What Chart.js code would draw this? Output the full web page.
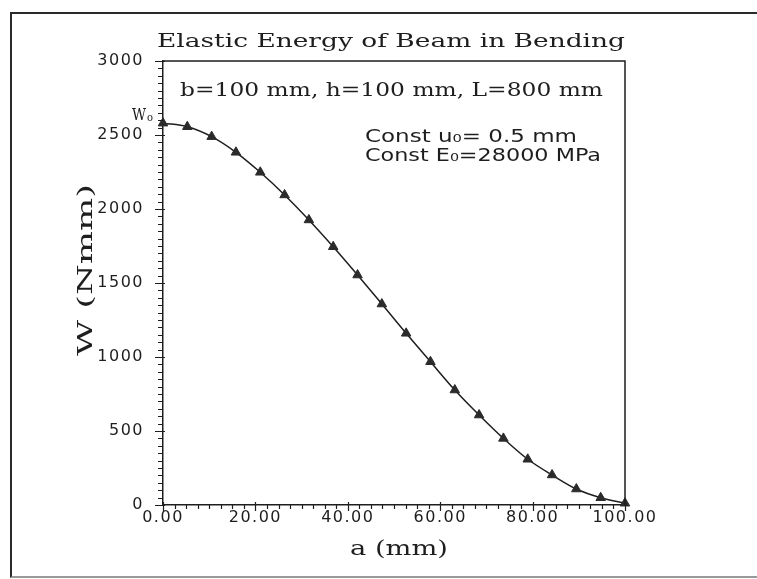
<!DOCTYPE html>
<html><head><meta charset="utf-8">
<script src="https://cdn.jsdelivr.net/npm/chart.js@4.4.1/dist/chart.umd.min.js"></script>
<style>
html,body{margin:0;padding:0;background:#fff;}
#wrap{position:relative;width:757px;height:579px;overflow:hidden;background:#fff;}
#frame{position:absolute;left:10px;top:12px;width:800px;height:566px;border:2px solid #2a2a2a;border-bottom-color:#9a9a9a;box-sizing:border-box;}
canvas{position:absolute;left:0;top:0;}
</style></head>
<body><div id="wrap"><div id="frame"></div><canvas id="c" width="757" height="579"></canvas></div>
<script>
// ---- data ----
const xValues = [0, 5.26, 10.53, 15.79, 21.05, 26.32, 31.58, 36.84, 42.11, 47.37,
                 52.63, 57.89, 63.16, 68.42, 73.68, 78.95, 84.21, 89.47, 94.74, 100];
const wValues = [2580, 2556, 2489, 2383, 2248, 2095, 1926, 1745, 1554, 1358,
                 1160, 968, 777, 608, 450, 309, 203, 108, 49, 12];
const xTickValues = [0, 20, 40, 60, 80, 100];
const yTickValues = [0, 500, 1000, 1500, 2000, 2500, 3000];
const xMinorStep = 2.5;
const yMinorStep = 50;
const titleText = 'Elastic Energy of Beam in Bending';
const xTitleText = 'a (mm)';
const yTitleText = 'W (Nmm)';
const dimText = 'b=100 mm, h=100 mm, L=800 mm';
const constLines = ['Const u\u2080= 0.5 mm', 'Const E\u2080=28000 MPa'];
const w0Label = 'W';

const INK = '#1e1e1e';
const SERIF = "'DejaVu Serif', 'Liberation Serif', serif";
const SANS = "'DejaVu Sans', 'Liberation Sans', sans-serif";

// draw text stretched horizontally so that it spans targetWidth
function drawFit(ctx, s, x, y, font, targetWidth, align) {
  ctx.save();
  ctx.font = font;
  ctx.letterSpacing = '0px';
  ctx.textBaseline = 'alphabetic';
  ctx.fillStyle = INK;
  const w = ctx.measureText(s).width;
  const sx = targetWidth / w;
  let x0 = x;
  if (align === 'center') x0 = x - targetWidth / 2;
  else if (align === 'right') x0 = x - targetWidth;
  ctx.translate(x0, y);
  ctx.scale(sx, 1);
  ctx.textAlign = 'left';
  ctx.fillText(s, 0, 0);
  ctx.restore();
}

const decor = {
  id: 'decor',
  beforeDraw(chart) {
    chart.ctx.letterSpacing = '1.5px';
  },
  afterDraw(chart) {
    const ctx = chart.ctx;
    const {left, right, top, bottom} = chart.chartArea;
    const xs = chart.scales.x, ys = chart.scales.y;
    ctx.save();
    ctx.strokeStyle = INK;
    ctx.lineWidth = 1.5;
    // plot box top and right
    ctx.beginPath();
    ctx.moveTo(left, top); ctx.lineTo(right, top); ctx.lineTo(right, bottom);
    ctx.stroke();
    // tick marks
    ctx.lineWidth = 1.2;
    ctx.beginPath();
    for (let v = 0; v <= 3000 + 1e-6; v += yMinorStep) {
      const py = Math.round(ys.getPixelForValue(v)) + 0.5;
      const major = yTickValues.includes(v);
      ctx.moveTo(left - (major ? 8 : 5), py);
      ctx.lineTo(left + (major ? 2 : 0), py);
    }
    for (let v = 0; v <= 100 + 1e-6; v += xMinorStep) {
      const px = Math.round(xs.getPixelForValue(v)) + 0.5;
      const major = xTickValues.includes(v);
      ctx.moveTo(px, bottom + (major ? 6 : 4));
      ctx.lineTo(px, bottom - (major ? 3 : 0));
    }
    ctx.stroke();

    // title
    drawFit(ctx, titleText, 157, 47, '18px ' + SERIF, 468, 'left');
    // dimensions line
    drawFit(ctx, dimText, 180, 96, '18px ' + SERIF, 423, 'left');
    // constants
    drawFit(ctx, constLines[0], 365, 142, '18px ' + SANS, 212, 'left');
    drawFit(ctx, constLines[1], 365, 161, '18px ' + SANS, 236, 'left');
    // W0 marker label
    drawFit(ctx, w0Label, 146, 120, '16px ' + SERIF, 14, 'right');
    drawFit(ctx, 'o', 147, 121, '11px ' + SERIF, 6, 'left');
    // x axis title
    drawFit(ctx, xTitleText, 399, 555, '21px ' + SERIF, 98, 'center');
    // y axis title (rotated)
    ctx.save();
    ctx.translate(92, 270);
    ctx.rotate(-Math.PI / 2);
    drawFit(ctx, yTitleText, 0, 0, '20px ' + SERIF, 172, 'center');
    ctx.restore();
    ctx.restore();
  }
};

Chart.defaults.font.family = SANS;
Chart.defaults.color = INK;

new Chart(document.getElementById('c'), {
  type: 'scatter',
  data: {
    datasets: [{
      data: xValues.map((x, i) => ({x: x, y: wValues[i]})),
      showLine: true,
      borderColor: INK,
      borderWidth: 1.5,
      backgroundColor: '#2b2b2b',
      pointBackgroundColor: '#2b2b2b',
      pointBorderColor: '#2b2b2b',
      pointBorderWidth: 1,
      pointStyle: 'triangle',
      pointRadius: 5.5,
      cubicInterpolationMode: 'monotone',
      clip: false
    }]
  },
  options: {
    responsive: false,
    animation: false,
    events: [],
    layout: {padding: {left: 0, right: 132, top: 61, bottom: 0}},
    plugins: {legend: {display: false}, tooltip: {enabled: false}, title: {display: false}},
    scales: {
      x: {
        type: 'linear', position: 'bottom', min: 0, max: 100,
        afterBuildTicks: s => { s.ticks = xTickValues.map(v => ({value: v})); },
        afterFit: s => { s.height = 74; },
        grid: {display: false, drawTicks: false},
        border: {display: true, color: INK, width: 1.5},
        ticks: {
          font: {size: 16}, color: INK, padding: 3, maxRotation: 0, autoSkip: false,
          callback: v => Number(v).toFixed(2)
        }
      },
      y: {
        type: 'linear', position: 'left', min: 0, max: 3000,
        afterBuildTicks: s => { s.ticks = yTickValues.map(v => ({value: v})); },
        afterFit: s => { s.width = 163; },
        grid: {display: false, drawTicks: false},
        border: {display: true, color: INK, width: 1.5},
        ticks: {font: {size: 16}, color: INK, padding: 19, autoSkip: false, callback: v => String(v)}
      }
    }
  },
  plugins: [decor]
});
</script>
</body></html>
